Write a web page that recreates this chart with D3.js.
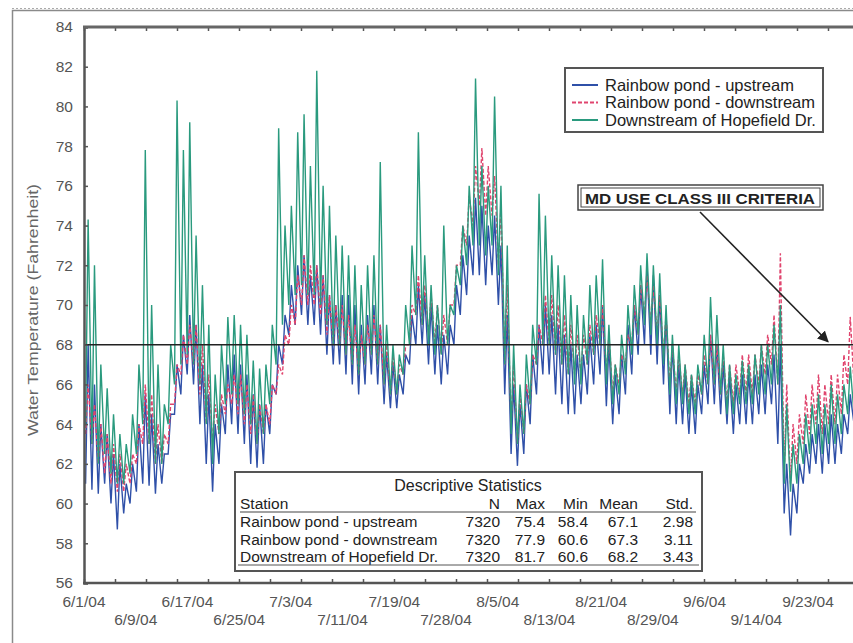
<!DOCTYPE html>
<html>
<head>
<meta charset="utf-8">
<script src="https://cdn.jsdelivr.net/npm/d3@7"></script>
<style>
  body { margin: 0; background: #fff; }
  text { font-family: "Liberation Sans", Arial, sans-serif; }
</style>
</head>
<body>
<div id="chart"></div>
<script>
// x tick labels (evenly spaced, 6/1/04 .. 9/23/04)
const dateLabels = ['6/1/04','6/9/04','6/17/04','6/25/04','7/3/04','7/11/04','7/19/04','7/28/04',
  '8/5/04','8/13/04','8/21/04','8/29/04','9/6/04','9/14/04','9/23/04'];
const labelSpanDays = 114; // 6/1 -> 9/23
const yTicks = d3.range(56, 86, 2);
const criteria = 68;

// daily high / low readings, day 0 = 6/1/04
const hopefieldHi = [74.3,72,67,65.8,64.5,63.5,63,64.5,67,77.8,
  70,67,65,68,80.3,77.8,79.2,73.5,71,69,
  66.5,68,69.4,69.5,69,68.5,67.2,66.8,67,69,
  78.9,74,75,78.7,79.6,77,81.8,76,75,73.5,
  73,72.5,72,71,72,72.5,77.2,69,68,67.5,
  70,73,78.7,72.5,71,70,74,70,72,74,
  76,81.4,77,76,80.5,76,73,68,66,67.5,
  69,75.6,74.5,72.5,72,71.5,70.5,70,69.5,71,
  71.5,72.3,69,67,68.5,70,71,72,72.6,72,
  71.6,70,68.5,68,67,66.5,67,68.5,70.4,69.5,
  68,67,66.5,67.2,67,67.5,68,68,69,70,
  65,63,63.5,64.5,65,65.5,65,66,65.5,66,
  66.9,66];
const hopefieldLo = [64,63,62,62.5,61.5,61,61,61.5,62.5,64,
  63,62,62,64,66,67,67.5,67,66,64,
  62,63.5,65,65.5,65,64.5,64,63,63.5,65,
  67,69,70,70.5,71,70.5,70.5,70,69,68,
  68,67.5,67,66.5,67,67.5,67,66,65.5,65.5,
  66.5,68,69.5,69,68,67.5,67.5,68,69.5,71,
  72,73,73,72.5,73,71.5,67,63.5,63,63.5,
  65,67,68,68,67.5,67,66.5,66,66,67,
  67.5,68,66,65,65.5,66.5,67.5,68.5,69,68.5,
  68,67,65.5,65,65,64.5,64.5,65.5,66,66,
  65.5,64.5,64.5,65,65,65,65.5,65.5,66,66,
  61,60.6,61,62,62.5,63,62.5,63,63,63.5,
  64.5,64.5];
const upstreamHi = [68,66,64,63.5,62.5,62,61,62,64,65.5,
  64.5,63,62.5,64.5,67,68.5,69.5,69,67,65.5,
  64,65,67,67.5,67,66.5,65.5,65,65,66,
  68,69.5,71,72,72.5,71.5,72,71.5,70.5,70,
  70.5,70.5,70,69,69.5,70,69,67.5,67,66.5,
  67.5,69.5,71,70.5,70,69,68.5,69,71,72.5,
  73.5,75.4,75,74,74.5,73,69.5,66,65,66,
  67.5,69,70,69.5,69,68.5,68,67.5,67.5,68.5,
  69,70,68,66.5,67.5,69,70,71,72,71.5,
  70.5,69.5,68,67,66.5,66,66,67,68.5,68,
  67,66.5,66,66.5,66.5,66.5,67,67,67.5,68,
  62,61,62,63,63.5,64,64,64.5,64,64.5,
  65.5,65.5];
const upstreamLo = [61,60.7,60.5,61,60,58.7,59.5,60,60.6,61,
  60.9,60.5,61,62.5,64.5,65.5,66.5,66,64,62,
  60.6,62,63.5,64,63.5,63,62,61.8,62,63.5,
  65.5,67,68.5,69,69.5,69,69,68.5,67.5,67,
  67,66.5,66,65.5,66,66.5,66,65,64.8,64.8,
  65.5,67,68,68,67,66.5,66,66.5,68,69.5,
  70.5,71.5,71.5,71,71.5,70,65.5,62.5,61.9,62.5,
  64,65.5,66.5,66.5,65.5,65,64.5,64.5,65,65.5,
  66,66.5,64.9,64,64.5,65.5,66.5,67.5,68,67.5,
  67,66,64.5,64,64,63.5,63.5,64.5,65,65,
  64.5,64,63.5,64,64,64,64.5,64.5,65,63,
  59.5,58.4,59.5,61,61.5,62,61.5,62,62,62.5,
  63.5,64];
const downstreamHi = [66,65,64,63.5,63,62.5,62,62.5,64,66,
  65.5,64,63.5,65,67,68.5,69,69,68,66.5,
  65,65.5,66,66.5,66.5,66,65.5,65,65,66,
  67,68.5,70,71.5,72.5,72,72,71.5,70.5,70,
  70,69.5,69,68.5,69,69.5,69,68,67.5,67,
  68,70,71.5,71,70.5,70,69.5,70,72,74,
  75.5,77,77.9,77,76.5,75,71,67,65.5,66,
  67.5,69,70.5,70.5,70,69.5,69,68.5,68.5,69,
  69.5,70,68.5,67,67.5,68.5,70,71,71.5,71,
  70.5,69.5,68,67.5,67,66.5,66.5,67.5,68.5,68,
  67.5,67,67,67.5,67.5,67.5,68,68.5,69.5,72.6,
  66,64,64.5,65.5,66,66.5,66,66.5,66.5,67.5,
  69.4,68.5];
const downstreamLo = [63.5,63,62,61.5,61,60.6,60.6,61,62,63,
  63,62,62,63,65,66.5,67,67,65.5,64,
  63,63.5,64.5,65,64.5,64,63.5,63,63.5,64,
  65.5,66.5,68,69,70,70,70,69.5,68.5,68,
  68,67.5,67,66.5,67,67.5,67,66,65.5,65.5,
  66.5,68,69.5,69,68.5,68,67.5,68,70,72,
  73,74,75,74.5,74.5,72,67,64,63,63.5,
  65,67,68,68,67.5,67,66.5,66.5,66.5,67,
  67.5,68,66.5,65.5,66,67,68,68.5,69.5,69,
  68.5,67.5,66,65.5,65.5,65,65,65.5,66,66,
  65.5,65,65,65.5,65.5,65.5,66,66.5,67,66,
  61.5,61,62,63,63.5,64,63.5,64,64,64.5,
  66,66];

const seriesNames = ['Rainbow pond - upstream', 'Rainbow pond - downstream', 'Downstream of Hopefield Dr.'];
const seriesColors = ['#2f50a8', '#e0456e', '#2a9a7e'];
const seriesDash = [null, '4,2', null];

const statsHeader = ['Station', 'N', 'Max', 'Min', 'Mean', 'Std.'];
const statsRows = [
  ['Rainbow pond - upstream', '7320', '75.4', '58.4', '67.1', '2.98'],
  ['Rainbow pond - downstream', '7320', '77.9', '60.6', '67.3', '3.11'],
  ['Downstream of Hopefield Dr.', '7320', '81.7', '60.6', '68.2', '3.43']
];

const W = 853, H = 643;
const plot = { left: 84, top: 27, bottom: 583, right: 860 };

const svg = d3.select('#chart').append('svg')
  .attr('width', W).attr('height', H);

// outer frame
svg.append('rect')
  .attr('x', 12.5).attr('y', 10.5).attr('width', 900).attr('height', 700)
  .attr('fill', 'none').attr('stroke', '#8a8a8a').attr('stroke-width', 1.5);
svg.append('line')
  .attr('x1', 12).attr('x2', W).attr('y1', 8.5).attr('y2', 8.5)
  .attr('stroke', '#aaa').attr('stroke-dasharray', '2,2');

const x = d3.scaleLinear()
  .domain([0, labelSpanDays])
  .range([plot.left, plot.left + 724]);
const y = d3.scaleLinear().domain([56, 84]).range([plot.bottom, plot.top]);

svg.append('defs').append('clipPath').attr('id', 'clip')
  .append('rect')
  .attr('x', plot.left).attr('y', plot.top)
  .attr('width', plot.right - plot.left).attr('height', plot.bottom - plot.top);

// series lines, two readings per day (morning low, afternoon high)
function dailyPoints(lo, hi) {
  const pts = [];
  lo.forEach((v, i) => {
    pts.push([i + 0.25, v]);
    pts.push([i + 0.65, hi[i]]);
  });
  return pts;
}
const seriesData = [
  dailyPoints(upstreamLo, upstreamHi),
  dailyPoints(downstreamLo, downstreamHi),
  dailyPoints(hopefieldLo, hopefieldHi)
];

const line = d3.line().x(d => x(d[0])).y(d => y(d[1]));

const gLines = svg.append('g').attr('clip-path', 'url(#clip)');
seriesData.forEach((pts, i) => {
  gLines.append('path')
    .datum(pts)
    .attr('fill', 'none')
    .attr('stroke', seriesColors[i])
    .attr('stroke-width', 1.4)
    .attr('stroke-dasharray', seriesDash[i])
    .attr('d', line);
});

// criteria line
svg.append('line')
  .attr('x1', plot.left).attr('x2', W)
  .attr('y1', y(criteria)).attr('y2', y(criteria))
  .attr('stroke', '#222').attr('stroke-width', 1.6);

// axes
const minorTicks = d3.range(0, 125, 31 / (724 / labelSpanDays));

const yAxis = svg.append('g')
  .attr('transform', `translate(${plot.left},0)`)
  .call(d3.axisLeft(y).tickValues(yTicks).tickSize(-4).tickPadding(11).tickFormat(d3.format('d')));
yAxis.select('.domain').attr('stroke', '#555').attr('stroke-width', 2.5);
yAxis.selectAll('.tick line').attr('stroke', '#555').attr('stroke-width', 1.5);
yAxis.selectAll('.tick text').attr('font-size', 15.5).attr('fill', '#555');

const xAxis = svg.append('g')
  .attr('transform', `translate(0,${plot.bottom})`)
  .call(d3.axisBottom(x).tickValues(minorTicks).tickSize(-4).tickFormat(''));
xAxis.select('.domain').remove();
xAxis.selectAll('.tick line').attr('stroke', '#555').attr('stroke-width', 1.5);
svg.append('line')
  .attr('x1', plot.left - 1).attr('x2', W).attr('y1', plot.bottom).attr('y2', plot.bottom)
  .attr('stroke', '#555').attr('stroke-width', 2.5);

const topAxis = svg.append('g')
  .attr('transform', `translate(0,${plot.top})`)
  .call(d3.axisTop(x).tickValues(minorTicks).tickSize(-4).tickFormat(''));
topAxis.select('.domain').remove();
topAxis.selectAll('.tick line').attr('stroke', '#555').attr('stroke-width', 1.5);
svg.append('line')
  .attr('x1', plot.left - 1).attr('x2', W).attr('y1', plot.top).attr('y2', plot.top)
  .attr('stroke', '#666').attr('stroke-width', 3);

// date labels, alternating rows
const labelStep = labelSpanDays / (dateLabels.length - 1);
svg.append('g').selectAll('text')
  .data(dateLabels)
  .join('text')
  .attr('x', (d, i) => x(i * labelStep))
  .attr('y', (d, i) => i % 2 === 0 ? 607 : 625)
  .attr('text-anchor', 'middle')
  .attr('font-size', 15.5)
  .attr('fill', '#555')
  .text(d => d);

// y axis title
svg.append('text')
  .attr('transform', `translate(38,310) rotate(-90)`)
  .attr('text-anchor', 'middle')
  .attr('font-size', 15)
  .attr('fill', '#666')
  .attr('textLength', 252).attr('lengthAdjust', 'spacingAndGlyphs')
  .text('Water Temperature (Fahrenheit)');

// legend
const legend = svg.append('g');
legend.append('rect')
  .attr('x', 565).attr('y', 68).attr('width', 258).attr('height', 64)
  .attr('fill', '#fff').attr('stroke', '#555').attr('stroke-width', 2);
seriesNames.forEach((name, i) => {
  const ly = 85 + i * 17.5;
  legend.append('line')
    .attr('x1', 572).attr('x2', 598).attr('y1', ly).attr('y2', ly)
    .attr('stroke', seriesColors[i]).attr('stroke-width', 2)
    .attr('stroke-dasharray', seriesDash[i]);
  legend.append('text')
    .attr('x', 605).attr('y', ly + 5.5)
    .attr('font-size', 16.5).attr('fill', '#222')
    .text(name);
});

// criteria callout
const callout = svg.append('g');
callout.append('rect')
  .attr('x', 578).attr('y', 185).attr('width', 245).attr('height', 25)
  .attr('fill', '#fff').attr('stroke', '#444').attr('stroke-width', 1.5);
callout.append('rect')
  .attr('x', 581).attr('y', 188).attr('width', 239).attr('height', 19)
  .attr('fill', 'none').attr('stroke', '#444').attr('stroke-width', 1);
callout.append('text')
  .attr('x', 700).attr('y', 203.5)
  .attr('text-anchor', 'middle')
  .attr('font-size', 15).attr('font-weight', 'bold').attr('fill', '#222')
  .attr('textLength', 230).attr('lengthAdjust', 'spacingAndGlyphs')
  .text('MD USE CLASS III CRITERIA');

svg.append('defs').append('marker')
  .attr('id', 'arrow').attr('viewBox', '0 0 10 10')
  .attr('refX', 9).attr('refY', 5)
  .attr('markerWidth', 7).attr('markerHeight', 7)
  .attr('orient', 'auto')
  .append('path').attr('d', 'M0,0L10,5L0,10z').attr('fill', '#222');
callout.append('line')
  .attr('x1', 700).attr('y1', 212).attr('x2', 828).attr('y2', y(criteria) - 3)
  .attr('stroke', '#222').attr('stroke-width', 1.6)
  .attr('marker-end', 'url(#arrow)');

// statistics table
const table = svg.append('g');
table.append('rect')
  .attr('x', 235).attr('y', 472).attr('width', 467).attr('height', 99)
  .attr('fill', '#fff').attr('stroke', '#555').attr('stroke-width', 2);
table.append('text')
  .attr('x', 468).attr('y', 491)
  .attr('text-anchor', 'middle').attr('font-size', 16).attr('fill', '#222')
  .text('Descriptive Statistics');
const colX = [240, 500, 545, 588, 638, 693];
statsHeader.forEach((h, j) => {
  table.append('text')
    .attr('x', colX[j]).attr('y', 509)
    .attr('text-anchor', j === 0 ? 'start' : 'end')
    .attr('font-size', 15.5).attr('fill', '#222')
    .text(h);
});
table.append('line')
  .attr('x1', 240).attr('x2', 696).attr('y1', 512).attr('y2', 512)
  .attr('stroke', '#444').attr('stroke-width', 1.2);
statsRows.forEach((row, i) => {
  row.forEach((v, j) => {
    table.append('text')
      .attr('x', colX[j]).attr('y', 527 + i * 17.5)
      .attr('text-anchor', j === 0 ? 'start' : 'end')
      .attr('font-size', 15.5).attr('fill', '#222')
      .text(v);
  });
});
table.append('line')
  .attr('x1', 238).attr('x2', 699).attr('y1', 565).attr('y2', 565)
  .attr('stroke', '#555').attr('stroke-width', 1);
</script>
</body>
</html>
